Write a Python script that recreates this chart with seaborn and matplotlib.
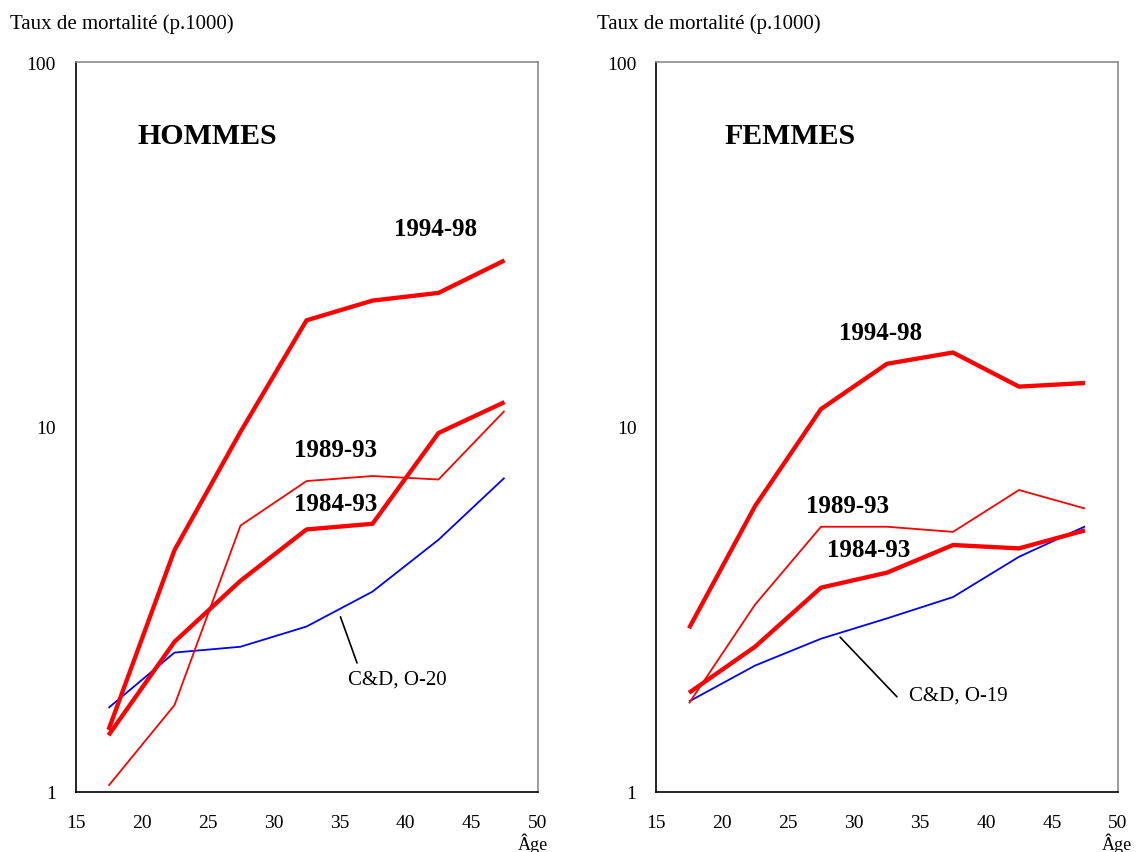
import matplotlib
matplotlib.use("Agg")
import matplotlib.pyplot as plt
import seaborn as sns
from matplotlib.ticker import NullLocator

# ---------------- data ----------------
ages = [17.5, 22.5, 27.5, 32.5, 37.5, 42.5, 47.5]

# HOMMES
h_1994_98 = [1.48, 4.60, 9.7, 19.6, 22.2, 23.3, 28.6]
h_1984_93 = [1.43, 2.58, 3.79, 5.24, 5.43, 9.63, 11.7]
h_1989_93 = [1.04, 1.73, 5.37, 7.11, 7.34, 7.18, 11.07]
h_cd_o20 = [1.70, 2.41, 2.50, 2.84, 3.54, 4.91, 7.26]

# FEMMES
f_1994_98 = [2.81, 6.07, 11.2, 14.9, 16.0, 12.9, 13.2]
f_1989_93 = [1.75, 3.26, 5.33, 5.33, 5.16, 6.72, 5.98]
f_1984_93 = [1.87, 2.50, 3.63, 3.99, 4.75, 4.65, 5.21]
f_cd_o19 = [1.77, 2.22, 2.63, 2.99, 3.42, 4.41, 5.34]

x_ticks = [15, 20, 25, 30, 35, 40, 45, 50]
y_ticks = [1, 10, 100]
y_tick_labels = ["1", "10", "100"]
y_title = "Taux de mortalité (p.1000)"
x_title = "Âge"

# ---------------- style ----------------
sns.set_style("white")
plt.rcParams["font.family"] = ["Liberation Serif", "DejaVu Serif"]
plt.rcParams["text.color"] = "black"
plt.rcParams["xtick.color"] = "black"
plt.rcParams["ytick.color"] = "black"
plt.rcParams["xtick.labelcolor"] = "black"
plt.rcParams["ytick.labelcolor"] = "black"

RED = "#FF0000"
BLUE = "#0000FF"
THICK = 3.1
THIN = 1.3

W, H = 1141, 853
fig = plt.figure(figsize=(W / 100, H / 100), dpi=100)
axL = fig.add_axes([75.5 / W, 1 - 793 / H, 462 / W, 730 / H])
axR = fig.add_axes([656 / W, 1 - 793 / H, 462 / W, 730 / H])


def draw(ax, series):
    for vals, color, lw in series:
        sns.lineplot(x=ages, y=vals, ax=ax, color=color, linewidth=lw,
                     legend=False, solid_capstyle="butt")
    ax.set_yscale("log")
    ax.set_xlim(15, 50)
    ax.set_ylim(1, 100)
    ax.set_xticks(x_ticks)
    ax.set_xticklabels([str(t) for t in x_ticks], fontsize=14, color="black")
    ax.set_yticks(y_ticks)
    ax.set_yticklabels(y_tick_labels, fontsize=14, color="black")
    ax.yaxis.set_minor_locator(NullLocator())
    ax.tick_params(axis="x", direction="in", length=7, width=1, pad=16, colors="black")
    ax.tick_params(axis="y", direction="in", length=7, width=1, pad=14, colors="black")
    ax.set_xlabel("")
    ax.set_ylabel("")
    for s in ["left", "bottom"]:
        ax.spines[s].set_color("black")
        ax.spines[s].set_linewidth(1.2)
    for s in ["top", "right"]:
        ax.spines[s].set_color("#8c8c8c")
        ax.spines[s].set_linewidth(1.2)
    ax.grid(False)


draw(axL, [(h_cd_o20, BLUE, THIN),
           (h_1989_93, RED, THIN),
           (h_1984_93, RED, THICK),
           (h_1994_98, RED, THICK)])
draw(axR, [(f_cd_o19, BLUE, THIN),
           (f_1989_93, RED, THIN),
           (f_1984_93, RED, THICK),
           (f_1994_98, RED, THICK)])

bold = dict(fontsize=18, fontweight="bold", ha="center", va="center", color="black")

# left annotations
axL.text(19.7, 63, "HOMMES", fontsize=21.5, fontweight="bold", ha="left", va="center", color="black")
axL.text(42.3, 34.9, "1994-98", **bold)
axL.text(34.7, 8.69, "1989-93", **bold)
axL.text(34.7, 6.16, "1984-93", **bold)
axL.text(39.4, 2.04, "C&D, O-20", fontsize=15, ha="center", va="center", color="black")
axL.annotate("", xy=(35.0, 3.07), xytext=(36.4, 2.22),
             arrowprops=dict(arrowstyle="-", color="black", lw=1.2))

# right annotations
axR.text(20.2, 63, "FEMMES", fontsize=21.5, fontweight="bold", ha="left", va="center", color="black")
axR.text(32.05, 18.2, "1994-98", **bold)
axR.text(29.5, 6.10, "1989-93", **bold)
axR.text(31.1, 4.61, "1984-93", **bold)
axR.text(37.9, 1.84, "C&D, O-19", fontsize=15, ha="center", va="center", color="black")
axR.annotate("", xy=(28.8, 2.69), xytext=(33.4, 1.80),
             arrowprops=dict(arrowstyle="-", color="black", lw=1.2))

# axis titles
fig.text(10 / W, 1 - 24 / H, y_title, fontsize=15, ha="left", va="center", color="black")
fig.text(597 / W, 1 - 24 / H, y_title, fontsize=15, ha="left", va="center", color="black")
fig.text(533 / W, 1 - 850 / H, x_title, fontsize=13, ha="center", va="baseline", color="black")
fig.text(1117 / W, 1 - 850 / H, x_title, fontsize=13, ha="center", va="baseline", color="black")

fig.savefig("out.png", dpi=100, facecolor="white")
